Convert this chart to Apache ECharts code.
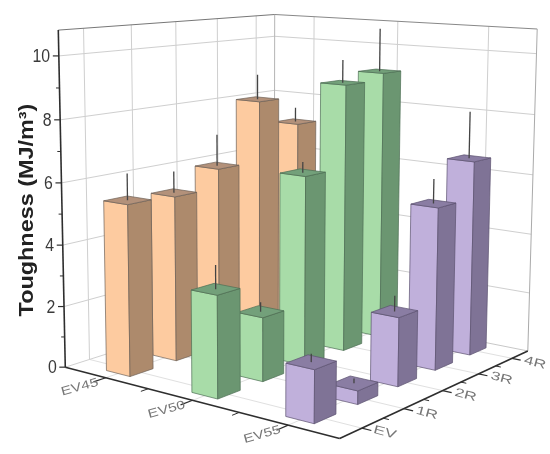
<!DOCTYPE html>
<html><head><meta charset="utf-8">
<style>html,body{margin:0;padding:0;background:#fff}#c{width:550px;height:454px}</style>
<script src="https://cdn.jsdelivr.net/npm/echarts@6/dist/echarts.min.js"></script>
</head><body><div id="c"></div>
<script>
const alloys = ['EV45','EV50','EV55'];
const processes = ['EV','1R','2R','3R','4R'];
const zTicks = [0,2,4,6,8,10];
const zMinor = [1,3,5,7,9];
const zMax = 10.8;
const toughnessEV45 = [5.5,5.43,6.05,8.1,7.1];
const toughnessEV50 = [3.2,2.05,6.2,8.93,9.15];
const toughnessEV55 = [1.6,0.42,2.2,5.3,6.5];
const errorEV45 = [0.85,0.7,1.05,0.85,0.5];
const errorEV50 = [0.75,0.3,0.35,0.75,1.45];
const errorEV55 = [0.25,0.15,0.5,0.8,1.55];
const toughness = [toughnessEV45,toughnessEV50,toughnessEV55];
const errors = [errorEV45,errorEV50,errorEV55];
const palette = [
  {front:'#FDCBA0',side:'#AD8A6C',top:'#B3917A',edge:'#6e6258'},
  {front:'#A8DCA8',side:'#6B9671',top:'#73A07A',edge:'#4d6f55'},
  {front:'#C0B0DB',side:'#7F7396',top:'#8A7DA3',edge:'#5b5270'}
];
// camera calibration: [x,y,z] in the unit box -> page pixel
const calib = [
 [[0,0,0],[66,367]],[[1,0,0],[338,438]],[[1,1,0],[527,351]],
 [[0,0,1],[58,30]],[[1,1,1],[537,29]],[[0,1,1],[275,14]],
 [[1/6,0,0],[105,378]],[[3/6,0,0],[192,400]],
 [[1,.1,0],[363,428]],[[1,.3,0],[404,409]],[[1,.5,0],[445,390]],[[1,.7,0],[479,374]],[[1,.9,0],[511,359]],
 [[0,0,10/10.8],[59,56.7]]
];
function solve(A,b){const n=b.length;for(let i=0;i<n;i++){let m=i;for(let r=i+1;r<n;r++)if(Math.abs(A[r][i])>Math.abs(A[m][i]))m=r;
 [A[i],A[m]]=[A[m],A[i]];[b[i],b[m]]=[b[m],b[i]];
 for(let r=i+1;r<n;r++){const f=A[r][i]/A[i][i];for(let c=i;c<n;c++)A[r][c]-=f*A[i][c];b[r]-=f*b[i];}}
 const x=new Array(n);for(let i=n-1;i>=0;i--){let s=b[i];for(let c=i+1;c<n;c++)s-=A[i][c]*x[c];x[i]=s/A[i][i];}return x;}
const P=(function(){const N=[...Array(11)].map(()=>new Array(11).fill(0)),R=new Array(11).fill(0);
 function add(row,t){for(let i=0;i<11;i++){R[i]+=row[i]*t;for(let j=0;j<11;j++)N[i][j]+=row[i]*row[j];}}
 calib.forEach(([[X,Y,Z],[u,v]])=>{add([X,Y,Z,1,0,0,0,0,-u*X,-u*Y,-u*Z],u);add([0,0,0,0,X,Y,Z,1,-v*X,-v*Y,-v*Z],v);});
 return solve(N,R);})();
function proj(X,Y,Z){const w=P[8]*X+P[9]*Y+P[10]*Z+1;return [(P[0]*X+P[1]*Y+P[2]*Z+P[3])/w,(P[4]*X+P[5]*Y+P[6]*Z+P[7])/w];}
const barW=0.285/3, barD=0.49/5;
const W=550,H=454;
function line(a,b,color,width){return {type:'line',shape:{x1:a[0],y1:a[1],x2:b[0],y2:b[1]},style:{stroke:color,lineWidth:width},silent:true};}
function poly(pts,fill,edge){return {type:'polygon',shape:{points:pts},style:{fill:fill,stroke:edge,lineWidth:0.7,lineJoin:'round'},silent:true};}
function text(s,x,y,size,color,rot,weight,sx){return {type:'text',x:x,y:y,rotation:rot||0,scaleX:sx||1,scaleY:1,silent:true,
  style:{text:s,fontSize:size,fontWeight:weight||'normal',fontFamily:'Liberation Sans',fill:color,align:'center',verticalAlign:'middle'}};}
const frameItem=(params,api)=>{
  const c=[];const zn=v=>api.coord([0,v])[1];const Zn=v=>1-zn(v)/H;
  const xs=alloys.map((_,i)=>api.coord([i,0])[0]/W);
  const ys=processes.map((_,j)=>(j+.5)/processes.length);
  const grid='#cfcfcf';
  // walls and floor grid
  zTicks.slice(1).forEach(v=>{const z=Zn(v);c.push(line(proj(0,0,z),proj(0,1,z),grid,1));c.push(line(proj(0,1,z),proj(1,1,z),grid,1));});
  ys.forEach(y=>{c.push(line(proj(0,y,0),proj(0,y,1),grid,1));c.push(line(proj(0,y,0),proj(1,y,0),'#e0e0e0',1));});
  xs.forEach(x=>{c.push(line(proj(x,1,0),proj(x,1,1),grid,1));c.push(line(proj(x,0,0),proj(x,1,0),'#e0e0e0',1));});
  c.push(line(proj(0,0,0),proj(0,1,0),'#d0d0d0',1),line(proj(0,1,0),proj(1,1,0),'#c8c8c8',1));
  c.push(line(proj(0,1,0),proj(0,1,1),'#b5b5b5',1));
  c.push(line(proj(0,0,1),proj(0,1,1),'#777',1),line(proj(0,1,1),proj(1,1,1),'#888',1),line(proj(1,1,1),proj(1,1,0),'#aaa',1));
  // axes
  const ax='#2e2e2e';
  c.push(line(proj(0,0,0),proj(0,0,1),ax,1.6),line(proj(0,0,0),proj(1,0,0),ax,1.6),line(proj(1,0,0),proj(1,1,0),ax,1.6));
  zTicks.forEach(v=>{const p=proj(0,0,Zn(v));c.push(line(p,[p[0]-6,p[1]],ax,1.2));c.push(text(String(v),p[0]-(v>=10?17.5:13),p[1]+1,18,'#3a3a3a',0,'normal',0.88));});
  zMinor.forEach(v=>{const p=proj(0,0,Zn(v));c.push(line(p,[p[0]-3.5,p[1]],ax,1));});
  xs.forEach((x,i)=>{const p=proj(x,0,0);const q=proj(x,-0.05,0);c.push(line(p,q,ax,1.2));
    c.push(text(alloys[i],p[0]-26,p[1]+9.5,12,'#777',0.27,'normal',1.3));
    if(i<xs.length-1){const m=(xs[i]+xs[i+1])/2;c.push(line(proj(m,0,0),proj(m,-0.03,0),ax,1));}});
  ys.forEach((y,j)=>{const p=proj(1,y,0);const q=proj(1.03,y,0);c.push(line(p,q,ax,1.2));
    c.push(text(processes[j],p[0]+23,p[1]+4.5,12,'#777',-0.26,'normal',1.45));
    if(j<ys.length-1){const m=(ys[j]+ys[j+1])/2;c.push(line(proj(1,m,0),proj(1.018,m,0),ax,1));}});
  c.push(text('Toughness (MJ/m³)',28,210,19.5,'#222',Math.PI/2,'bold',1.2));
  return {type:'group',children:c};
};
const barItem=(params,api)=>{
  const a=api.value(0),v=api.value(1),p=api.value(2),e=api.value(3);
  const o=api.coord([a,v]);const x=o[0]/W,z=1-o[1]/H;
  const ze=1-api.coord([a,v+e])[1]/H;
  const y=(p+.5)/processes.length;
  const col=palette[a];
  const x0=x-barW/2,x1=x+barW/2,y0=y-barD/2,y1=y+barD/2;
  const front=[proj(x0,y0,0),proj(x1,y0,0),proj(x1,y0,z),proj(x0,y0,z)];
  const side=[proj(x1,y0,0),proj(x1,y1,0),proj(x1,y1,z),proj(x1,y0,z)];
  const top=[proj(x0,y0,z),proj(x1,y0,z),proj(x1,y1,z),proj(x0,y1,z)];
  return {type:'group',children:[poly(front,col.front,col.edge),poly(side,col.side,col.edge),poly(top,col.top,col.edge),
    line(proj(x,y,z),proj(x,y,ze),'#444',1.3)]};
};
const barData=[];
alloys.forEach((_,a)=>{for(let p=processes.length-1;p>=0;p--)barData.push([a,toughness[a][p],p,errors[a][p]]);});
const chart=echarts.init(document.getElementById('c'),null,{renderer:'canvas'});
chart.setOption({animation:false,backgroundColor:'#fff',
  grid:{left:0,right:0,top:0,bottom:0},
  xAxis:{type:'category',data:alloys,show:false},
  yAxis:{type:'value',min:0,max:zMax,show:false},
  series:[
   {type:'custom',coordinateSystem:'cartesian2d',clip:false,renderItem:frameItem,data:[[0,0]],encode:{x:0,y:1},z:1,silent:true},
   {type:'custom',coordinateSystem:'cartesian2d',clip:false,renderItem:barItem,data:barData,encode:{x:0,y:1},z:2,silent:true}
  ]});
</script></body></html>
